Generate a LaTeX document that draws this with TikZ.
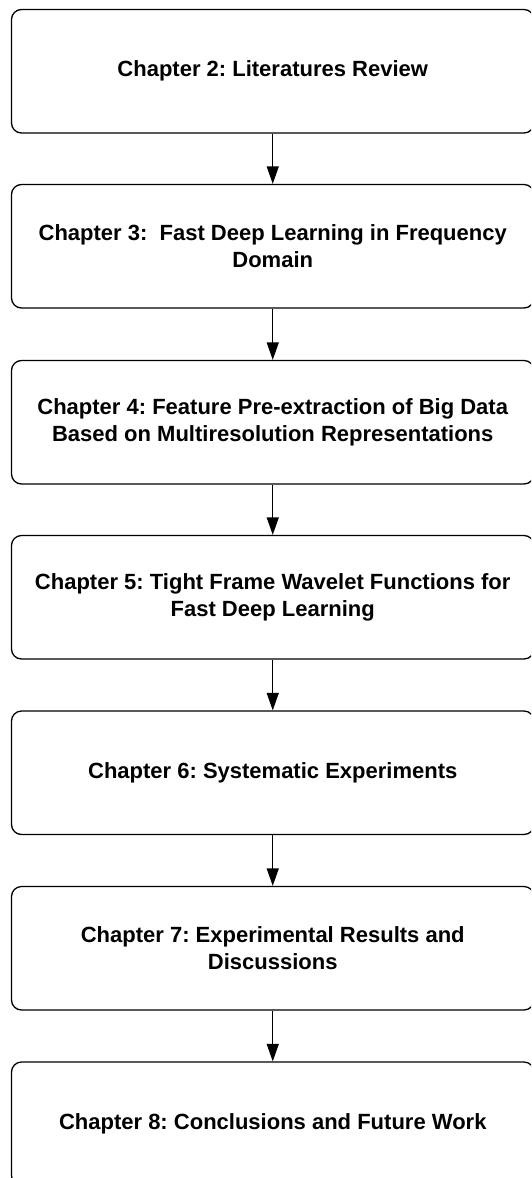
\documentclass[tikz,border=0pt]{standalone}
\usepackage{fontspec}
\setmainfont{Liberation Sans}
\usetikzlibrary{arrows.meta}
\frenchspacing

\begin{document}
\begin{tikzpicture}[x=1pt,y=-1pt,
  chapbox/.style={draw=black, line width=1.3pt, rounded corners=10pt,
    minimum width=522.5pt, minimum height=123.5pt, inner sep=0pt,
    align=center, font=\fontsize{22}{27}\selectfont\bfseries},
  flow/.style={-{Triangle[width=12pt,length=17.5pt]}, line width=1.3pt}]
\useasboundingbox (0,0) rectangle (531,1178);
\clip (0,0) rectangle (531,1178);

% chapter boxes, top to bottom
\node[chapbox] (c2) at (272.75,71.25)   {Chapter 2: Literatures Review};
\node[chapbox] (c3) at (272.75,246.25)  {Chapter 3:\ \ Fast Deep Learning in Frequency\\Domain};
\node[chapbox] (c4) at (272.75,422.25)  {Chapter 4: Feature Pre-extraction of Big Data\\Based on Multiresolution Representations};
\node[chapbox] (c5) at (272.75,597.25)  {Chapter 5: Tight Frame Wavelet Functions for\\Fast Deep Learning};
\node[chapbox] (c6) at (272.75,772.75)  {Chapter 6: Systematic Experiments};
\node[chapbox] (c7) at (272.75,948.25)  {Chapter 7: Experimental Results and\\Discussions};
\node[chapbox] (c8) at (272.75,1123.75) {Chapter 8: Conclusions and Future Work};

% flow between chapters
\draw[flow] (c2.south) -- (c3.north);
\draw[flow] (c3.south) -- (c4.north);
\draw[flow] (c4.south) -- (c5.north);
\draw[flow] (c5.south) -- (c6.north);
\draw[flow] (c6.south) -- (c7.north);
\draw[flow] (c7.south) -- (c8.north);
\end{tikzpicture}
\end{document}
